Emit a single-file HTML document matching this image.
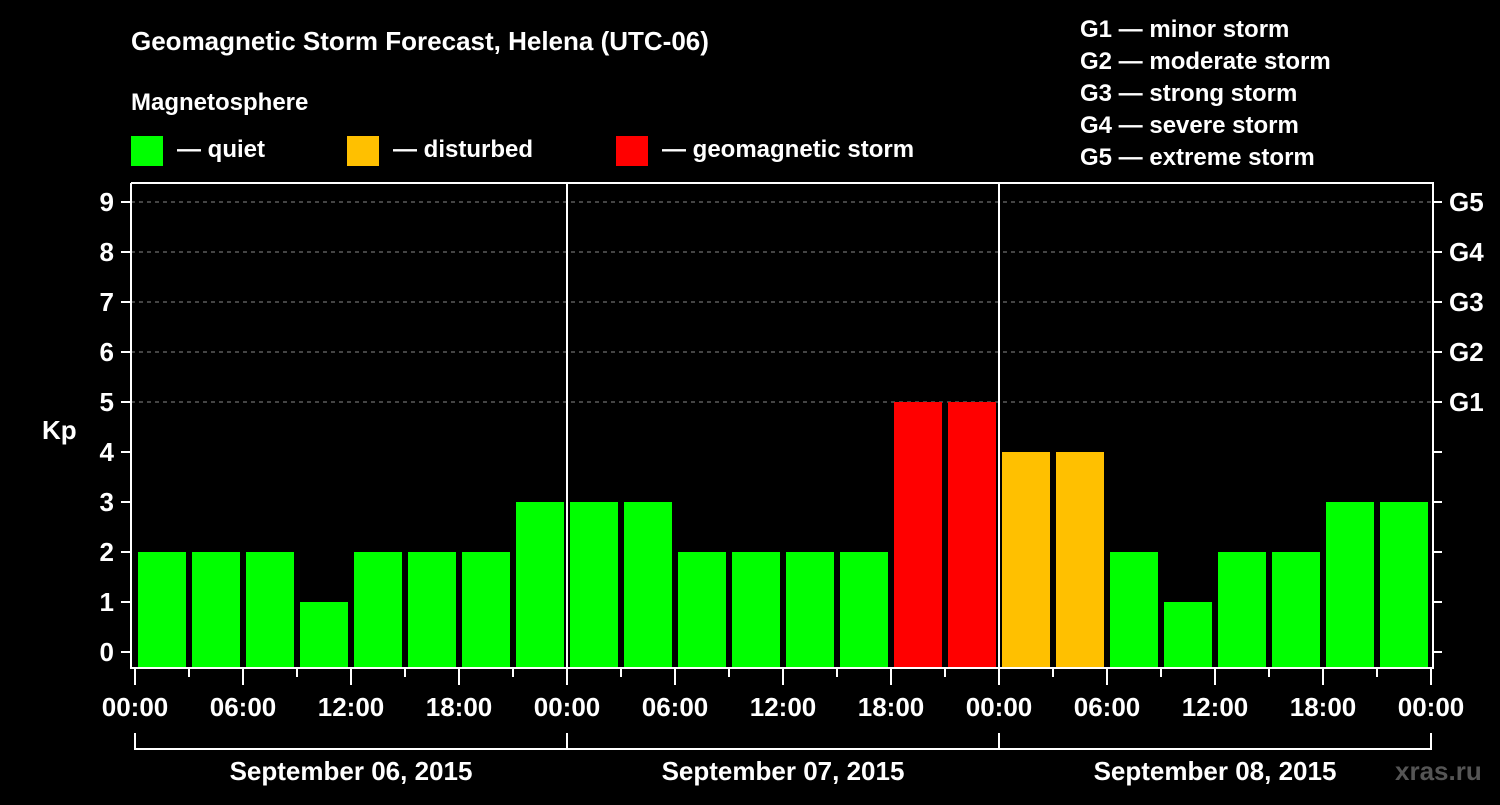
<!DOCTYPE html>
<html><head><meta charset="utf-8"><style>
html,body{margin:0;padding:0;background:#000;}
svg text{font-family:"Liberation Sans",Arial,sans-serif;font-weight:bold;fill:#fff;}
</style></head><body>
<svg id="chart" width="1500" height="800" viewBox="0 0 1500 800" xmlns="http://www.w3.org/2000/svg">
<rect x="0" y="0" width="1500" height="800" fill="#000"/>
<text x="131" y="50" font-size="26">Geomagnetic Storm Forecast, Helena (UTC-06)</text>
<text x="131" y="110" font-size="24">Magnetosphere</text>
<g><rect x="131" y="136" width="32" height="30" fill="#00ff00"/><text x="177" y="157" font-size="24">— quiet</text></g>
<g><rect x="347" y="136" width="32" height="30" fill="#ffc000"/><text x="393" y="157" font-size="24">— disturbed</text></g>
<g><rect x="616" y="136" width="32" height="30" fill="#ff0000"/><text x="662" y="157" font-size="24">— geomagnetic storm</text></g>
<g font-size="24">
<text x="1080" y="37">G1 — minor storm</text>
<text x="1080" y="69">G2 — moderate storm</text>
<text x="1080" y="101">G3 — strong storm</text>
<text x="1080" y="133">G4 — severe storm</text>
<text x="1080" y="165">G5 — extreme storm</text>
</g>
<text x="42" y="439" font-size="26">Kp</text>
<g id="grid"></g><g id="bars"></g><g id="axes"></g>
<text x="1395" y="780" font-size="26" fill="#444" style="fill:#555">xras.ru</text>
</svg>
<script>
const kpValues = [2,2,2,1,2,2,2,3, 3,3,2,2,2,2,5,5, 4,4,2,1,2,2,3,3];
const hourLabels = ["00:00","06:00","12:00","18:00"];
const dayLabels = ["September 06, 2015","September 07, 2015","September 08, 2015"];
const yTicks = [0,1,2,3,4,5,6,7,8,9];
const gLabels = ["G1","G2","G3","G4","G5"];

const NS="http://www.w3.org/2000/svg";
const X0=135, DAYW=432, PL=131, PR=1433, PT=183, PB=668;
const xScale = h => X0 + h*DAYW/24;
const yScale = v => 652 - 50*v;
function mk(tag, attrs, parent){const e=document.createElementNS(NS,tag);for(const k in attrs)e.setAttribute(k,attrs[k]);parent.appendChild(e);return e;}
const grid=document.getElementById('grid'), bars=document.getElementById('bars'), axes=document.getElementById('axes');
function color(v){return v>=5?'#ff0000':(v>=4?'#ffc000':'#00ff00');}

[5,6,7,8,9].forEach(v=>{
  const l=mk('line',{x1:PL,x2:PR,y1:yScale(v),y2:yScale(v),stroke:'#888','stroke-dasharray':'4,4','stroke-width':1},grid);
  
  
});
kpValues.forEach((v,i)=>{
  const x=xScale(i*3)+3, w=xScale(3)-xScale(0)-6;
  const r=mk('rect',{x:x,y:yScale(v),width:w,height:PB-yScale(v),fill:color(v)},bars);
  
  
});
// frame
const fr=mk('path',{d:`M${PL},${PT} V${PB} H${PR} V${PT} H${PL}`,fill:'none',stroke:'#fff','stroke-width':2},axes);


[1,2].forEach(d=>{
  const l=mk('line',{x1:xScale(d*24),x2:xScale(d*24),y1:PT,y2:PB,stroke:'#fff','stroke-width':2},axes);
  
  
});
yTicks.forEach(v=>{
  mk('line',{x1:121,x2:PL,y1:yScale(v),y2:yScale(v),stroke:'#fff','stroke-width':2},axes);
  mk('line',{x1:PR,x2:1442,y1:yScale(v),y2:yScale(v),stroke:'#fff','stroke-width':2},axes);
  const t=mk('text',{x:114,y:yScale(v)+9,'font-size':26,'text-anchor':'end'},axes);
  t.textContent=v;
  
  
});
gLabels.forEach((g,i)=>{
  const t=mk('text',{x:1449,y:yScale(5+i)+9,'font-size':26},axes);
  t.textContent=g;
  
  
});
for(let h=0;h<=72;h+=3){
  const big=h%6===0;
  mk('line',{x1:xScale(h),x2:xScale(h),y1:PB,y2:big?685:677,stroke:'#fff','stroke-width':2},axes);
  if(big){
    const t=mk('text',{x:xScale(h),y:716,'font-size':26,'text-anchor':'middle'},axes);
    t.textContent=hourLabels[(h/6)%4];
    
    
  }
}
const br=mk('path',{d:`M${xScale(0)},733 V749 H${xScale(72)} V733`,fill:'none',stroke:'#fff','stroke-width':2},axes);


dayLabels.forEach((d,i)=>{
  mk('line',{x1:xScale(i*24),x2:xScale(i*24),y1:733,y2:749,stroke:'#fff','stroke-width':2},axes);
  const t=mk('text',{x:xScale(i*24+12),y:780,'font-size':26,'text-anchor':'middle'},axes);
  t.textContent=d;
  
  
});
</script>
</body></html>
